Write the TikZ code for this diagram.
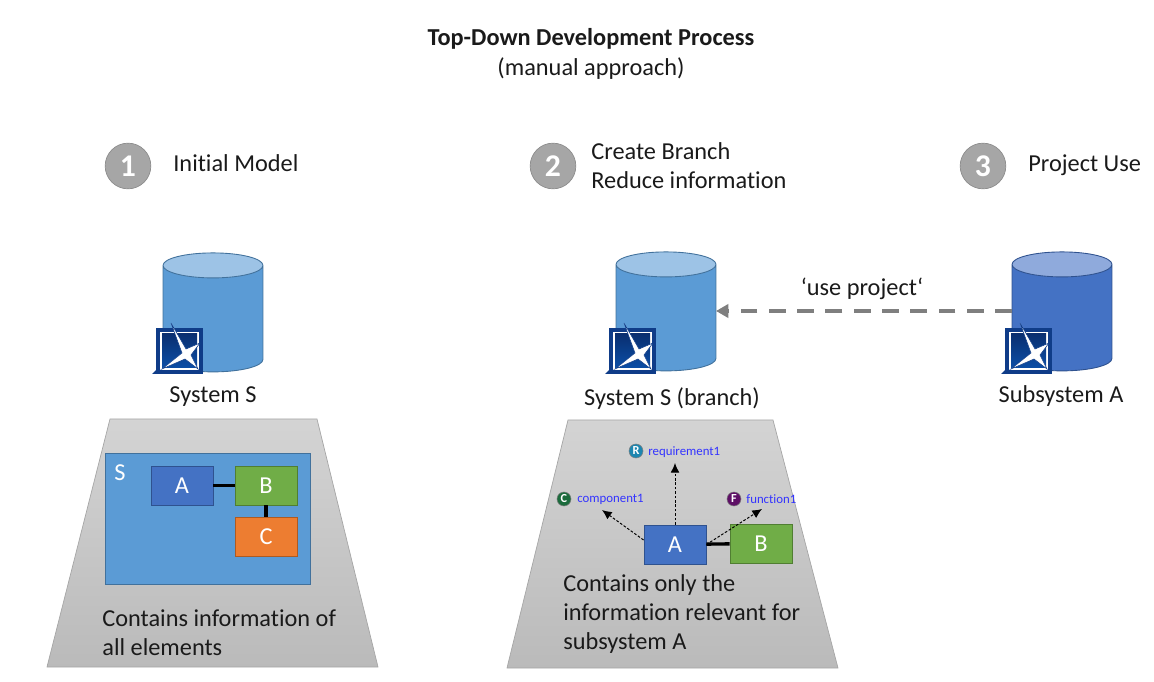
\documentclass[tikz,border=0pt]{standalone}
\usepackage{fontspec}
\setmainfont[Ligatures=NoCommon]{Carlito}
\usetikzlibrary{shapes.geometric,arrows.meta}
\definecolor{FontColor}{HTML}{1a1a1a}
\definecolor{SysBlue}{HTML}{5b9bd5}
\definecolor{SysTop}{HTML}{9dc3e6}
\definecolor{SysEdge}{HTML}{41719c}
\definecolor{SubBlue}{HTML}{4472c4}
\definecolor{SubTop}{HTML}{8faadc}
\definecolor{SubEdge}{HTML}{2f528f}
\definecolor{GreenB}{HTML}{70ad47}
\definecolor{GreenEdge}{HTML}{507e32}
\definecolor{OrangeC}{HTML}{ed7d31}
\definecolor{OrangeEdge}{HTML}{ae5a21}
\definecolor{StepGray}{HTML}{a6a6a6}
\definecolor{LinkGray}{HTML}{7f7f7f}
\definecolor{ElemBlue}{HTML}{3333ff}
\definecolor{LogoBlue}{HTML}{0f3c88}
\definecolor{LogoDark}{HTML}{0a2f70}
\definecolor{LogoMid}{HTML}{0b4ea6}
\definecolor{BadgeR}{HTML}{1c86b0}
\definecolor{BadgeC}{HTML}{1b6b3c}
\definecolor{BadgeF}{HTML}{5e0f66}
\tikzstyle{txt} = [text=FontColor, font=\fontsize{13.85pt}{16.5pt}\selectfont, inner sep=0pt]
\tikzstyle{lefttxt} = [txt, anchor=west, align=left]
\tikzstyle{stepnum} = [circle, fill=StepGray, draw=StepGray!85!black, line width=0.4pt, minimum size=26pt, inner sep=0pt, text=white, font=\fontsize{18pt}{18pt}\selectfont\bfseries]
\tikzstyle{db} = [cylinder, shape border rotate=90, shape aspect=1, minimum width=2cm, minimum height=2.38cm, inner sep=0.25cm, outer sep=0pt, cylinder uses custom fill, line width=0.5pt]
\tikzstyle{dbsys} = [db, draw=SysEdge, cylinder body fill=SysBlue, cylinder end fill=SysTop]
\tikzstyle{dbsub} = [db, draw=SubEdge, cylinder body fill=SubBlue, cylinder end fill=SubTop]
\tikzstyle{block} = [rectangle, minimum width=1.24cm, minimum height=0.78cm, inner sep=0pt, text=white, line width=0.5pt, font=\fontsize{13.85pt}{14pt}\selectfont]
\tikzstyle{ba} = [block, fill=SubBlue, draw=SubEdge]
\tikzstyle{bb} = [block, fill=GreenB, draw=GreenEdge]
\tikzstyle{bc} = [block, fill=OrangeC, draw=OrangeEdge]
\tikzstyle{bar} = [line width=1.9pt, black]
\tikzstyle{funnel} = [draw=black!35, line width=0.4pt, top color=black!17, bottom color=black!27]
\tikzstyle{trace} = [dash pattern=on 1.5pt off 1pt, line width=0.55pt, -{Latex[length=5.5pt,width=5pt]}]
\tikzstyle{badge} = [circle, minimum size=8pt, inner sep=0pt, text=white, draw=black!50, line width=0.3pt, font=\fontsize{7pt}{7pt}\selectfont\bfseries]
\tikzstyle{elem} = [anchor=west, inner sep=0pt, text=ElemBlue, font=\fontsize{7.3pt}{8pt}\selectfont]
\tikzset{logo/.pic={
  \fill[LogoBlue] (0,0) rectangle (47,46);
  \fill[LogoBlue] (-4,46) -- (1,41) -- (3,46) -- cycle;
  \fill[white] (4,4) rectangle (43,42);
  \shade[top color=LogoDark, bottom color=LogoMid] (6,6) rectangle (41,40);
  \fill[white, draw=LogoBlue, line width=0.3pt] (15,-5) -- (30,21) -- (44,15) -- (35,27) -- (42,41) -- (29,31) -- (6,41) -- (26,25) -- cycle;
}}

\begin{document}
\begin{tikzpicture}[x=0.02cm, y=-0.02cm]
\useasboundingbox (0,0) rectangle (1154,682);
% title
\node[txt, font=\fontsize{13.85pt}{16.5pt}\selectfont\bfseries] (title) at (591,38.5) {Top-Down Development Process};
\node[txt] (subtitle) at (591,68.5) {(manual approach)};
% steps
\node[stepnum] (s1) at (128,166) {1};
\node[stepnum] (s2) at (553,166) {2};
\node[stepnum] (s3) at (983,166) {3};
\node[lefttxt] (s1txt) at (173,163) {Initial Model};
\node[lefttxt] (s2txt) at (591,166) {Create Branch\\Reduce information};
\node[lefttxt] (s3txt) at (1028,165) {Project Use};
% funnels
\path[funnel] (110,419) -- (317,419) -- (378,667) -- (47,667) -- cycle;
\path[funnel] (568,420) -- (773,420) -- (838,668) -- (507,668) -- cycle;
% databases
\node[dbsys] (sys) at (213,323) {};
\node[dbsys] (branch) at (666,322) {};
\node[dbsub] (sub) at (1062,322) {};
\pic at (156,328) {logo};
\pic at (609,328) {logo};
\pic at (1005,328) {logo};
\node[txt] (syslbl) at (213,397) {System S};
\node[txt] (branchlbl) at (672,399) {System S (branch)};
\node[txt] (sublbl) at (1061,396) {Subsystem A};
% use project
\node[txt] (uselbl) at (862,289) {‘use project‘};
\draw[LinkGray, line width=2.3pt, dash pattern=on 9.6pt off 6.5pt, -{Triangle[length=7pt,width=7.5pt]}] ([yshift=0.22cm]sub.180) -- ([yshift=0.22cm]branch.0);
% left model
\node[rectangle, fill=SysBlue, draw=SysEdge, line width=0.5pt, minimum width=4.1cm, minimum height=2.62cm] (frame) at (207.5,518.5) {};
\node[txt, text=white] (frames) at (120,473) {S};
\node[ba] (a1) at (182,485.5) {A};
\node[bb] (b1) at (266,485.5) {B};
\node[bc] (c1) at (266,536.5) {C};
\draw[bar] (a1) -- (b1);
\draw[bar] (b1) -- (c1);
\node[lefttxt] (note1) at (102,633) {Contains information of\\all elements};
% middle model
\node[ba] (a2) at (675,544.5) {A};
\node[bb] (b2) at (761,543.5) {B};
\draw[bar] (a2) -- (b2);
\node[badge, fill=BadgeR] (rbadge) at (636,451) {R};
\node[elem] (rtxt) at (648,452) {requirement1};
\node[badge, fill=BadgeC] (cbadge) at (564,499) {C};
\node[elem] (ctxt) at (577,499) {component1};
\node[badge, fill=BadgeF] (fbadge) at (734,499) {F};
\node[elem] (ftxt) at (746,499) {function1};
\coordinate (rend) at (675,463);
\coordinate (cend) at (602,510);
\coordinate (fend) at (762,509);
\draw[trace] (a2.north) -- (rend);
\draw[trace] ([yshift=0.09cm]a2.west) -- (cend);
\draw[trace] (a2.east) -- (fend);
\node[lefttxt] (note2) at (563,614.5) {Contains only the\\information relevant for\\subsystem A};
\end{tikzpicture}
\end{document}
